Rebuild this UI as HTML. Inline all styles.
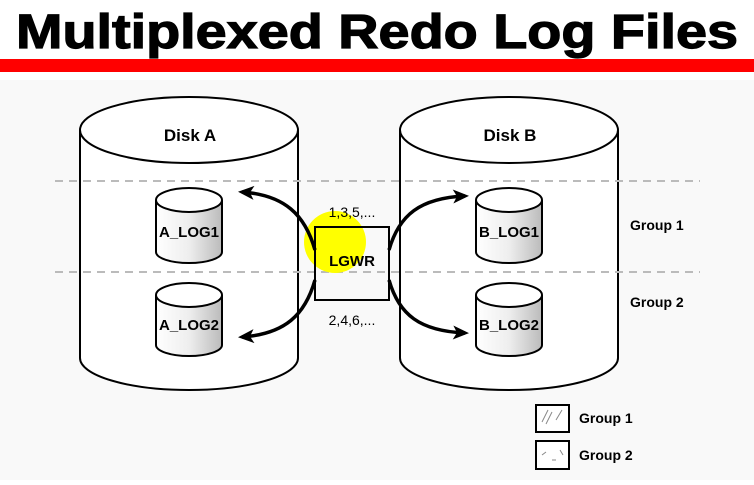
<!DOCTYPE html>
<html><head><style>
body{margin:0;width:754px;height:480px;overflow:hidden;background:#fff;font-family:"Liberation Sans",sans-serif}
</style></head><body>
<svg width="754" height="480" xmlns="http://www.w3.org/2000/svg" font-family="Liberation Sans, sans-serif">
<defs>
<linearGradient id="g" x1="0" x2="1"><stop offset="0" stop-color="#fff"/><stop offset="0.5" stop-color="#eee"/><stop offset="1" stop-color="#bbb"/></linearGradient>
<marker id="ah" markerWidth="16" markerHeight="16" refX="12" refY="8" orient="auto" markerUnits="userSpaceOnUse"><path d="M0,1 L16,8 L0,15 L4,8 z" fill="#000"/></marker>
</defs>
<rect x="0" y="80" width="754" height="400" fill="#f9f9f9"/>
<text x="377" y="48" text-anchor="middle" font-size="48" font-weight="bold" fill="#000" textLength="722" lengthAdjust="spacingAndGlyphs" stroke="#000" stroke-width="1.2">Multiplexed Redo Log Files</text>
<rect x="0" y="59" width="754" height="13" fill="#f00"/>
<g stroke="#000" stroke-width="2" fill="#fff">
<path d="M80,130 L80,358 A109,32 0 0 0 298,358 L298,130"/>
<ellipse cx="189" cy="130" rx="109" ry="33"/>
<path d="M400,130 L400,358 A109,32 0 0 0 618,358 L618,130"/>
<ellipse cx="509" cy="130" rx="109" ry="33"/>
</g>
<text x="190" y="141" text-anchor="middle" font-size="17" font-weight="bold">Disk A</text>
<text x="510" y="141" text-anchor="middle" font-size="17" font-weight="bold">Disk B</text>
<g stroke="#bbb" stroke-width="2" stroke-dasharray="8,6">
<line x1="55" y1="181" x2="700" y2="181"/><line x1="55" y1="272" x2="700" y2="272"/>
</g>
<g stroke="#000" stroke-width="2">
<path d="M156,200 L156,252 A33,11 0 0 0 222,252 L222,200" fill="url(#g)"/><ellipse cx="189" cy="200" rx="33" ry="12" fill="#fff"/>
<path d="M156,295 L156,345 A33,11 0 0 0 222,345 L222,295" fill="url(#g)"/><ellipse cx="189" cy="295" rx="33" ry="12" fill="#fff"/>
<path d="M476,200 L476,252 A33,11 0 0 0 542,252 L542,200" fill="url(#g)"/><ellipse cx="509" cy="200" rx="33" ry="12" fill="#fff"/>
<path d="M476,295 L476,345 A33,11 0 0 0 542,345 L542,295" fill="url(#g)"/><ellipse cx="509" cy="295" rx="33" ry="12" fill="#fff"/>
</g>
<g font-size="15" font-weight="bold" text-anchor="middle">
<text x="189" y="237">A_LOG1</text><text x="189" y="330">A_LOG2</text>
<text x="509" y="237">B_LOG1</text><text x="509" y="330">B_LOG2</text>
</g>
<circle cx="335" cy="242" r="31" fill="#ff0"/>
<rect x="315" y="227" width="74" height="73" fill="none" stroke="#000" stroke-width="2"/>
<text x="352" y="266" text-anchor="middle" font-size="15" font-weight="bold">LGWR</text>
<text x="352" y="217" text-anchor="middle" font-size="14">1,3,5,...</text>
<text x="352" y="325" text-anchor="middle" font-size="14">2,4,6,...</text>
<g fill="none" stroke="#000" stroke-width="3.5">
<path d="M315,250 C305,215 285,195 242,192" marker-end="url(#ah)"/>
<path d="M315,280 C305,315 285,334 242,337" marker-end="url(#ah)"/>
<path d="M389,250 C399,215 420,198 465,196" marker-end="url(#ah)"/>
<path d="M389,280 C399,315 420,331 465,333" marker-end="url(#ah)"/>
</g>
<g font-size="14" font-weight="bold">
<text x="630" y="230">Group 1</text><text x="630" y="307">Group 2</text>
<text x="579" y="423">Group 1</text><text x="579" y="460">Group 2</text>
</g>
<rect x="536" y="405" width="33" height="27" fill="#fff" stroke="#000" stroke-width="2"/>
<rect x="536" y="441" width="33" height="28" fill="#fff" stroke="#000" stroke-width="2"/>
<g stroke="#888" stroke-width="1">
<line x1="542" y1="422" x2="548" y2="410"/><line x1="546" y1="424" x2="552" y2="412"/><line x1="556" y1="420" x2="562" y2="410"/>
<line x1="542" y1="455" x2="546" y2="452"/><line x1="552" y1="460" x2="556" y2="460"/><line x1="560" y1="450" x2="563" y2="455"/>
</g>
</svg>
</body></html>
